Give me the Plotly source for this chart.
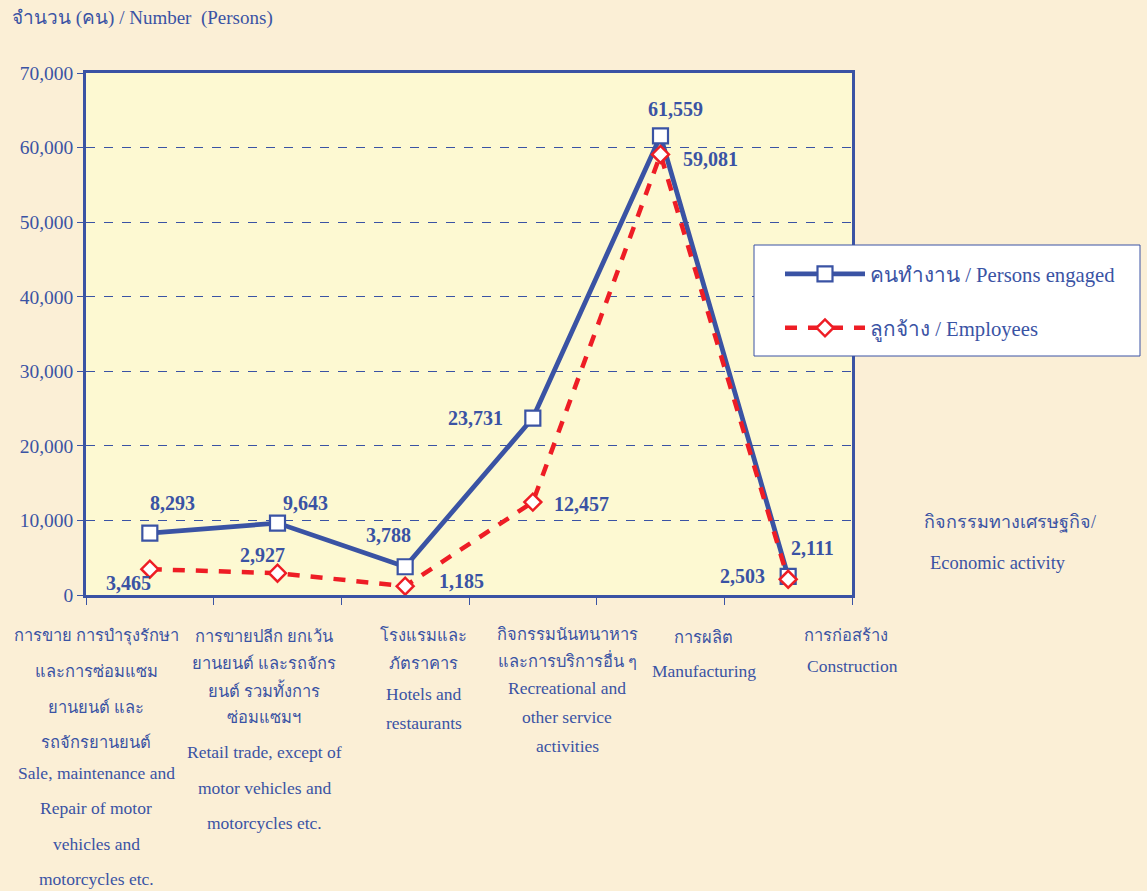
import plotly.graph_objects as go

# ---------------- data ----------------
categories_th = [
    ["การขาย การบำรุงรักษา", "และการซ่อมแซม", "ยานยนต์ และ", "รถจักรยานยนต์"],
    ["การขายปลีก ยกเว้น", "ยานยนต์ และรถจักร", "ยนต์ รวมทั้งการ", "ซ่อมแซมฯ"],
    ["โรงแรมและ", "ภัตราคาร"],
    ["กิจกรรมนันทนาหาร", "และการบริการอื่น ๆ"],
    ["การผลิต"],
    ["การก่อสร้าง"],
]
categories_en = [
    ["Sale, maintenance and", "Repair of motor", "vehicles and", "motorcycles etc."],
    ["Retail trade, except of", "motor vehicles and", "motorcycles etc."],
    ["Hotels and", "restaurants"],
    ["Recreational and", "other service", "activities"],
    ["Manufacturing"],
    ["Construction"],
]
persons_engaged = [8293, 9643, 3788, 23731, 61559, 2503]
employees = [3465, 2927, 1185, 12457, 59081, 2111]
y_ticks = [0, 10000, 20000, 30000, 40000, 50000, 60000, 70000]
name_persons = "คนทำงาน / Persons engaged"
name_employees = "ลูกจ้าง / Employees"
y_title = "จำนวน (คน) / Number  (Persons)"
x_title_th = "กิจกรรมทางเศรษฐกิจ/"
x_title_en = "Economic activity"

# ---------------- style ----------------
BLUE = "#3A53A4"
RED = "#EE1D25"
FONT = "Liberation Serif, Times New Roman, serif"
x = list(range(len(persons_engaged)))

# label offsets (px) for data labels
p_off = [(23, 30), (28, 20), (-17, 32), (-57, 0), (15, 27), (-46, 0)]
e_off = [(-21, -14), (-15, 18), (56, 5), (49, -2), (50, -5), (24, 31)]
# category label layout (pixels): thai centre x, english centre x,
# thai y start, thai spacing, english y start, english spacing
th_cx = [96, 264, 423.5, 567.5, 703, 846]
en_cx = [96, 264, 424, 567, 704, 852]
cat_layout = [
    (636, 35.5, 773, 35.3),
    (636, 27, 752, 35.5),
    (635, 28, 694, 29),
    (634, 26, 688, 29),
    (637, 0, 671, 0),
    (635, 0, 666, 0),
]

# plot area geometry in pixels
L, R, T, B = 86, 852, 73, 595
W, H = 1147, 891


def py(pix):
    return (B - pix) / (B - T)


def px(pix):
    return (pix - L) / (R - L)


fig = go.Figure()
fig.add_trace(go.Scatter(
    x=x, y=persons_engaged, mode="lines+markers", name=name_persons,
    legendgroup="a",
    line=dict(color=BLUE, width=4.8),
    marker=dict(symbol="square", size=15, color="white", line=dict(color=BLUE, width=2.2)),
))
fig.add_trace(go.Scatter(
    x=x, y=employees, mode="lines+markers", name=name_employees,
    legendgroup="b",
    line=dict(color=RED, width=4.5, dash="12px,11px"),
    marker=dict(symbol="diamond", size=13, color="white", line=dict(color=RED, width=2.5)),
))

annotations = []
for i, v in enumerate(persons_engaged):
    annotations.append(dict(x=i, y=v, xref="x", yref="y", text=f"{v:,}", showarrow=False,
                            xshift=p_off[i][0], yshift=p_off[i][1],
                            font=dict(family=FONT, size=20, color=BLUE, weight="bold")))
for i, v in enumerate(employees):
    annotations.append(dict(x=i, y=v, xref="x", yref="y", text=f"{v:,}", showarrow=False,
                            xshift=e_off[i][0], yshift=e_off[i][1],
                            font=dict(family=FONT, size=20, color=BLUE, weight="bold")))

for i in range(len(categories_th)):
    ty, ts, ey, es = cat_layout[i]
    for k, line in enumerate(categories_th[i]):
        annotations.append(dict(x=px(th_cx[i]), y=py(ty + k * ts), xref="paper", yref="paper",
                                text=line, showarrow=False, xanchor="center", yanchor="middle",
                                font=dict(family=FONT, size=16.5, color=BLUE)))
    for k, line in enumerate(categories_en[i]):
        annotations.append(dict(x=px(en_cx[i]), y=py(ey + k * es), xref="paper", yref="paper",
                                text=line, showarrow=False, xanchor="center", yanchor="middle",
                                font=dict(family=FONT, size=17.5, color=BLUE)))

annotations.append(dict(x=px(10), y=py(18), xref="paper", yref="paper", text=y_title,
                        showarrow=False, xanchor="left", yanchor="middle",
                        font=dict(family=FONT, size=19, color=BLUE)))
annotations.append(dict(x=px(1010), y=py(522), xref="paper", yref="paper", text=x_title_th,
                        showarrow=False, xanchor="center", yanchor="middle",
                        font=dict(family=FONT, size=18, color=BLUE)))
annotations.append(dict(x=px(998), y=py(563), xref="paper", yref="paper", text=x_title_en,
                        showarrow=False, xanchor="center", yanchor="middle",
                        font=dict(family=FONT, size=18.5, color=BLUE)))

shapes = [dict(type="rect", xref="paper", yref="paper", layer="above",
               x0=px(754), x1=px(1140), y0=py(356), y1=py(245),
               fillcolor="white", line=dict(color=BLUE, width=1))]

fig.update_layout(
    width=W, height=H,
    margin=dict(l=L, r=W - R, t=T, b=H - B, autoexpand=False),
    paper_bgcolor="#FBEFD6",
    plot_bgcolor="#FDF9D2",
    showlegend=True,
    legend=dict(
        x=px(780), y=py(254), xanchor="left", yanchor="top",
        bgcolor="rgba(0,0,0,0)", borderwidth=0,
        font=dict(family=FONT, size=20.7, color=BLUE),
        itemwidth=80, tracegroupgap=24, traceorder="grouped",
    ),
    annotations=annotations,
    shapes=shapes,
    xaxis=dict(
        range=[-0.5, len(x) - 0.5], tickvals=[i - 0.5 for i in range(len(x) + 1)],
        ticktext=["" for _ in range(len(x) + 1)],
        ticks="outside", ticklen=7, tickcolor=BLUE, tickwidth=1,
        showgrid=False, zeroline=False,
        showline=True, linecolor=BLUE, linewidth=2.5, mirror=True,
    ),
    yaxis=dict(
        range=[0, 70000], tickvals=y_ticks, ticktext=[f"{v:,}" for v in y_ticks],
        ticks="outside", ticklen=6, tickcolor=BLUE, tickwidth=1,
        tickfont=dict(family=FONT, size=19.5, color=BLUE),
        showgrid=True, gridcolor=BLUE, gridwidth=1, griddash="dash",
        zeroline=False,
        showline=True, linecolor=BLUE, linewidth=2.5, mirror=True,
    ),
)

fig.write_html("out.html", config={"displayModeBar": False},
               post_script="document.body.style.margin='0';document.body.style.background='#FBEFD6';")
